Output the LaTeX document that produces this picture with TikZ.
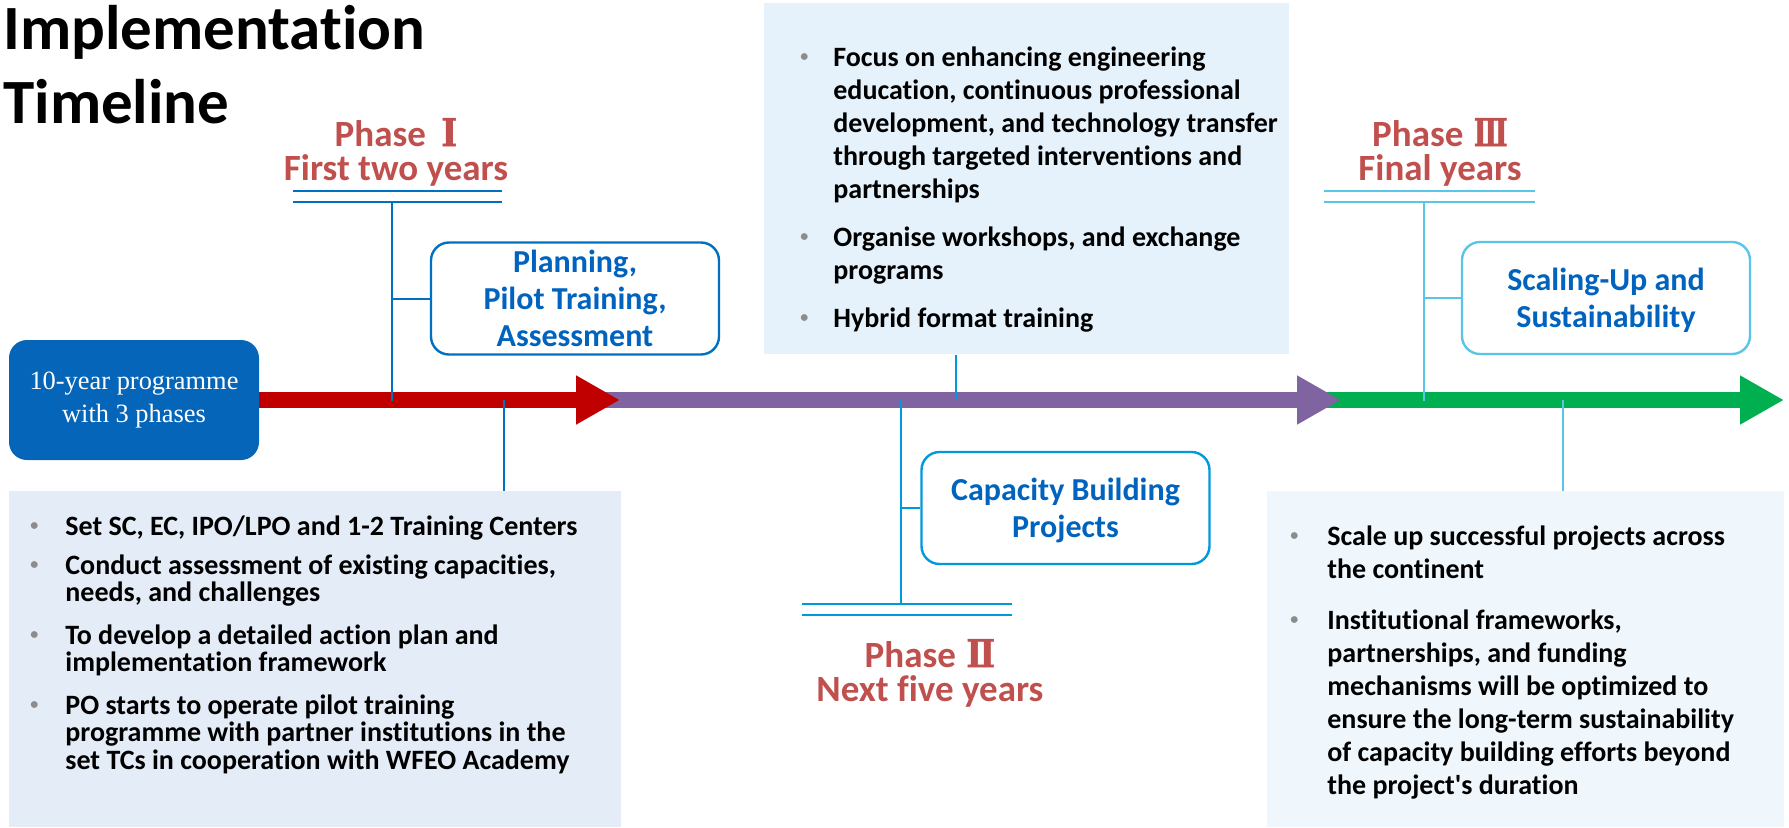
\documentclass[tikz,border=0pt]{standalone}
\usepackage{fontspec}
\setmainfont{Carlito}[Ligatures=NoCommon]
\newfontfamily\timesfont{Liberation Serif}
\newfontfamily\romfont{DejaVu Serif}[BoldFeatures={FakeBold=1.5}]
\usetikzlibrary{arrows.meta}

\definecolor{arrowred}{RGB}{192,0,0}
\definecolor{arrowpurple}{RGB}{128,100,162}
\definecolor{arrowgreen}{RGB}{0,176,80}
\definecolor{progblue}{RGB}{5,101,184}
\definecolor{phasered}{RGB}{192,80,77}
\definecolor{textblue}{RGB}{0,99,190}
\definecolor{lineone}{RGB}{0,112,192}
\definecolor{linetwo}{RGB}{0,153,219}
\definecolor{linethree}{RGB}{91,197,232}
\definecolor{fillone}{RGB}{228,236,247}
\definecolor{filltwo}{RGB}{229,242,251}
\definecolor{fillthree}{RGB}{239,247,252}
\definecolor{bulgray}{RGB}{140,140,140}

\newcommand{\bul}{\textcolor{bulgray}{\raisebox{2.5pt}{\fontsize{8}{8}\selectfont\textbullet}}}
% roman numeral: gap before, glyph width, gap after
\newcommand{\rnum}[4]{\hspace{#2}\resizebox{#3}{14pt}{\romfont #1}\hspace{#4}}

\tikzset{
  phasetxt/.style={align=center, text=phasered, font=\fontsize{18.5}{17}\selectfont\bfseries},
  stagebox/.style={draw, line width=1.2pt, rounded corners=9pt, fill=white, minimum width=144pt, minimum height=56pt, text depth=0pt, align=center, text=textblue, font=\fontsize{16}{18.5}\selectfont\bfseries},
  dbl/.style={double=white, double distance=4.5pt, line width=1pt},
  listbox/.style={inner sep=0pt, anchor=north west},
  listtxt/.style={inner sep=0pt, anchor=north west},
  axis/.style={line width=8pt, -{Triangle[length=22pt,width=23pt]}},
  stem/.style={line width=1pt},
}

\begin{document}
\begin{tikzpicture}[x=0.5pt, y=-0.5pt]
\useasboundingbox (0,0) rectangle (1789,827);

% title
\node[anchor=north west, inner sep=0pt, align=left, font=\fontsize{31.5}{37}\selectfont\bfseries] (title) at (3,5) {Implementation\\Timeline};

% info boxes
\node[listbox, fill=fillone, minimum width=306pt, minimum height=168pt] (lbox) at (9,491) {};
\node[listbox, fill=filltwo, minimum width=262.5pt, minimum height=175.5pt] (tbox) at (764,3) {};
\node[listbox, fill=fillthree, minimum width=258.5pt, minimum height=168pt] (rbox) at (1267,491) {};

\node[listtxt, font=\fontsize{14}{13}\selectfont\bfseries] (ltxt) at (30,515) {%
\begin{tabular}{@{}p{17.5pt}@{}l@{}}
\bul & Set SC, EC, IPO/LPO and 1-2 Training Centers\\[6pt]
\bul & Conduct assessment of existing capacities,\\
 & needs, and challenges\\[7.5pt]
\bul & To develop a detailed action plan and\\
 & implementation framework\\[7.5pt]
\bul & PO starts to operate pilot training\\
 & programme with partner institutions in the\\
 & set TCs in cooperation with WFEO Academy
\end{tabular}};

\node[listtxt, font=\fontsize{14}{16.5}\selectfont\bfseries] (ttxt) at (800,43) {%
\begin{tabular}{@{}p{16.5pt}@{}l@{}}
\bul & Focus on enhancing engineering\\
 & education, continuous professional\\
 & development, and technology transfer\\
 & through targeted interventions and\\
 & partnerships\\[7.5pt]
\bul & Organise workshops, and exchange\\
 & programs\\[7.5pt]
\bul & Hybrid format training
\end{tabular}};

\node[listtxt, font=\fontsize{14}{16.5}\selectfont\bfseries] (rtxt) at (1290,522) {%
\begin{tabular}{@{}p{18.5pt}@{}l@{}}
\bul & Scale up successful projects across\\
 & the continent\\[9pt]
\bul & Institutional frameworks,\\
 & partnerships, and funding\\
 & mechanisms will be optimized to\\
 & ensure the long-term sustainability\\
 & of capacity building efforts beyond\\
 & the project\textquotesingle s duration
\end{tabular}};

% timeline
\coordinate (a0) at (259,400);
\coordinate (a1) at (620,400);
\coordinate (a1s) at (600,400);
\coordinate (a2) at (1341,400);
\coordinate (a2s) at (1320,400);
\coordinate (a3) at (1784,400);
\draw[axis, arrowgreen] (a2s) -- (a3);
\draw[axis, arrowpurple] (a1s) -- (a2);
\draw[axis, arrowred] (a0) -- (a1);

\node[fill=progblue, rounded corners=9pt, minimum width=125pt, minimum height=60pt, align=center, text=white, font=\timesfont\fontsize{13.2}{16.5}\selectfont] (prog) at (134,400) {10-year programme\\with 3 phases};

% phase I
\node[phasetxt] (ph1) at (396,152) {Phase \rnum{Ⅰ}{3.5pt}{8pt}{6.5pt}\\First two years};
\coordinate (b1w) at (293,196.5);
\coordinate (b1e) at (502,196.5);
\draw[dbl, lineone] (b1w) -- (b1e);
\node[stagebox, draw=lineone] (plan) at (575,298.5) {Planning,\\Pilot Training,\\Assessment};
\coordinate (s1t) at (392,202);
\coordinate (s1b) at (392,401);
\draw[stem, lineone] (s1t) -- (s1b);
\draw[stem, lineone] (s1t |- plan.west) -- (plan.west);
\coordinate (s1d) at (504,400);
\draw[stem, lineone] (s1d) -- (s1d |- lbox.north);

% phase II
\coordinate (s2t) at (956,400);
\draw[stem, linetwo] (s2t) -- (s2t |- tbox.south);
\node[stagebox, draw=linetwo] (cap) at (1065.5,508) {Capacity Building\\Projects};
\coordinate (b2w) at (802,609.5);
\coordinate (b2e) at (1012,609.5);
\draw[dbl, linetwo] (b2w) -- (b2e);
\coordinate (s2a) at (901,400);
\coordinate (s2b) at (901,605);
\draw[stem, linetwo] (s2a) -- (s2b);
\draw[stem, linetwo] (s2a |- cap.west) -- (cap.west);
\node[phasetxt] (ph2) at (930,673) {Phase \rnum{Ⅱ}{1pt}{14.5pt}{4pt}\\Next five years};

% phase III
\node[phasetxt] (ph3) at (1440,152) {Phase \rnum{Ⅲ}{1pt}{17pt}{6pt}\\Final years};
\coordinate (b3w) at (1324,196.5);
\coordinate (b3e) at (1535,196.5);
\draw[dbl, linethree] (b3w) -- (b3e);
\node[stagebox, draw=linethree] (scale) at (1606,298) {Scaling-Up and\\Sustainability};
\coordinate (s3t) at (1424,202);
\coordinate (s3b) at (1424,401);
\draw[stem, linethree] (s3t) -- (s3b);
\draw[stem, linethree] (s3t |- scale.west) -- (scale.west);
\coordinate (s3d) at (1563,400);
\draw[stem, linethree] (s3d) -- (s3d |- rbox.north);
\end{tikzpicture}
\end{document}
